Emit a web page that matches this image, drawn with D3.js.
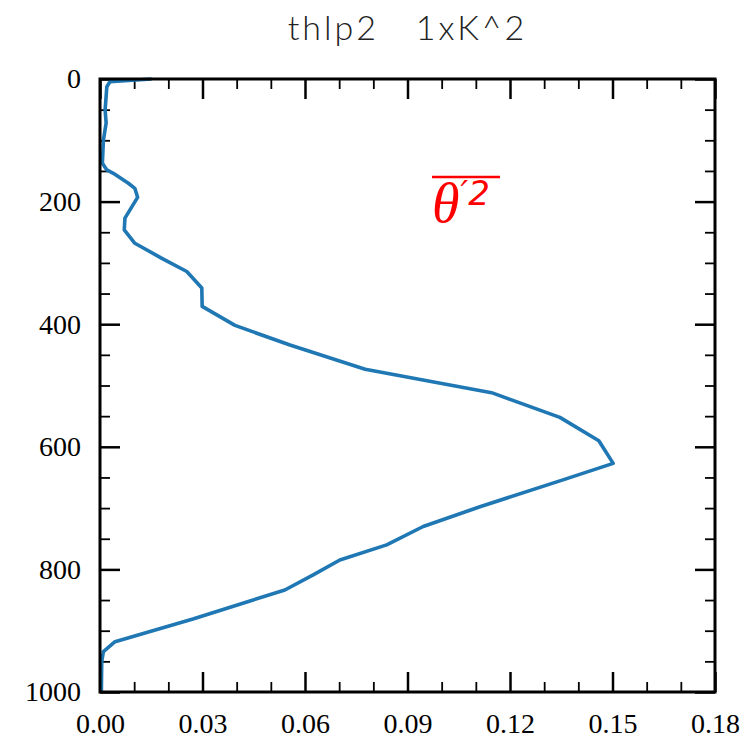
<!DOCTYPE html>
<html>
<head>
<meta charset="utf-8">
<script src="https://cdn.jsdelivr.net/npm/d3@7"></script>
<style>
html,body{margin:0;padding:0;background:#fff;}
svg{display:block;}
</style>
</head>
<body>
<svg id="chart" width="746" height="738"></svg>
<script>
// ---- data ----
const heights = [0, 4.4, 12.6, 50.6, 71.8, 99.5, 137.5, 148.4, 153.8, 170, 178.3, 193, 227, 246, 268, 292.5, 314, 341, 371, 402, 434, 473.6, 511.7, 552, 590, 627, 654, 697.7, 730, 760, 784.6, 809, 833.6, 851.5, 881, 918, 934, 950.5, 1000];
const thlp2 = [0.0151, 0.0029, 0.0020, 0.0015, 0.0018, 0.0010, 0.0007, 0.0020, 0.0039, 0.0083, 0.0102, 0.0110, 0.0073, 0.0071, 0.0102, 0.0181, 0.0254, 0.0298, 0.0299, 0.0395, 0.0556, 0.0776, 0.1146, 0.1346, 0.1460, 0.1502, 0.1355, 0.1112, 0.0946, 0.0839, 0.0702, 0.0624, 0.0541, 0.0439, 0.0272, 0.0044, 0.0010, 0.0005, 0.0004];
const xTicks = [0, 0.03, 0.06, 0.09, 0.12, 0.15, 0.18];
const xTickLabels = ["0.00", "0.03", "0.06", "0.09", "0.12", "0.15", "0.18"];
const xMinorTicks = [0.01, 0.02, 0.04, 0.05, 0.07, 0.08, 0.10, 0.11, 0.13, 0.14, 0.16, 0.17];
const yTicks = [0, 200, 400, 600, 800, 1000];
const yTickLabels = ["0", "200", "400", "600", "800", "1000"];
const yMinorTicks = [50, 100, 150, 250, 300, 350, 450, 500, 550, 650, 700, 750, 850, 900, 950];
const titleText = "thlp2   1xK^2";

// ---- layout ----
const L = 100, R = 715, T = 79, B = 692;
const svg = d3.select("#chart");
const x = d3.scaleLinear().domain([0, 0.18]).range([L, R]);
const y = d3.scaleLinear().domain([0, 1000]).range([T, B]);

const serif = "'Liberation Serif','Times New Roman',serif";

function styleAxis(g, w) {
  g.select(".domain").remove();
  g.selectAll(".tick line").attr("stroke", "#000").attr("stroke-width", w);
}

// major ticks with labels
svg.append("g").attr("transform", `translate(0,${B})`)
  .call(d3.axisBottom(x).tickValues(xTicks).tickSize(-20).tickPadding(21)
    .tickFormat((d, i) => xTickLabels[i]))
  .call(g => styleAxis(g, 2.5))
  .call(g => g.selectAll("text").attr("font-family", serif).attr("font-size", 28).attr("fill", "#000"));
svg.append("g").attr("transform", `translate(0,${T})`)
  .call(d3.axisTop(x).tickValues(xTicks).tickSize(-20).tickFormat(""))
  .call(g => styleAxis(g, 2.5));
svg.append("g").attr("transform", `translate(${L},0)`)
  .call(d3.axisLeft(y).tickValues(yTicks).tickSize(-20).tickPadding(19)
    .tickFormat((d, i) => yTickLabels[i]))
  .call(g => styleAxis(g, 2.5))
  .call(g => g.selectAll("text").attr("font-family", serif).attr("font-size", 28).attr("fill", "#000"));
svg.append("g").attr("transform", `translate(${R},0)`)
  .call(d3.axisRight(y).tickValues(yTicks).tickSize(-20).tickFormat(""))
  .call(g => styleAxis(g, 2.5));

// minor ticks
svg.append("g").attr("transform", `translate(0,${B})`)
  .call(d3.axisBottom(x).tickValues(xMinorTicks).tickSize(-10).tickFormat(""))
  .call(g => styleAxis(g, 1.8));
svg.append("g").attr("transform", `translate(0,${T})`)
  .call(d3.axisTop(x).tickValues(xMinorTicks).tickSize(-10).tickFormat(""))
  .call(g => styleAxis(g, 1.8));
svg.append("g").attr("transform", `translate(${L},0)`)
  .call(d3.axisLeft(y).tickValues(yMinorTicks).tickSize(-10).tickFormat(""))
  .call(g => styleAxis(g, 1.8));
svg.append("g").attr("transform", `translate(${R},0)`)
  .call(d3.axisRight(y).tickValues(yMinorTicks).tickSize(-10).tickFormat(""))
  .call(g => styleAxis(g, 1.8));

// data line
const pts = heights.map((h, i) => [thlp2[i], h]);
svg.append("path")
  .datum(pts)
  .attr("fill", "none")
  .attr("stroke", "#1f77b4")
  .attr("stroke-width", 3.6)
  .attr("stroke-linejoin", "round")
  .attr("d", d3.line().x(d => x(d[0])).y(d => y(d[1])));

// frame
svg.append("rect").attr("x", L).attr("y", T).attr("width", R - L).attr("height", B - T)
  .attr("fill", "none").attr("stroke", "#000").attr("stroke-width", 3);

// title
svg.append("text").attr("x", (L + R) / 2).attr("y", 40)
  .attr("text-anchor", "middle")
  .attr("font-family", "Lato, 'DejaVu Sans', sans-serif")
  .attr("font-weight", 300)
  .attr("font-size", 34)
  .attr("letter-spacing", 3)
  .attr("fill", "#222")
  .style("white-space", "pre")
  .attr("xml:space", "preserve")
  .text(titleText);

// math label  overline theta'^2
const lab = svg.append("g");
lab.append("line").attr("x1", 432).attr("x2", 500).attr("y1", 177).attr("y2", 177)
  .attr("stroke", "red").attr("stroke-width", 2.5);
const t = lab.append("text").attr("x", 432).attr("y", 222)
  .attr("font-family", serif).attr("font-style", "italic").attr("fill", "red")
  .attr("font-size", 56);
t.append("tspan").text("θ");
t.append("tspan").attr("font-size", 34).attr("dy", -17).attr("dx", 1)
  .attr("font-family", "'DejaVu Sans', sans-serif").attr("font-style", "italic").text("′2");
</script>
</body>
</html>
